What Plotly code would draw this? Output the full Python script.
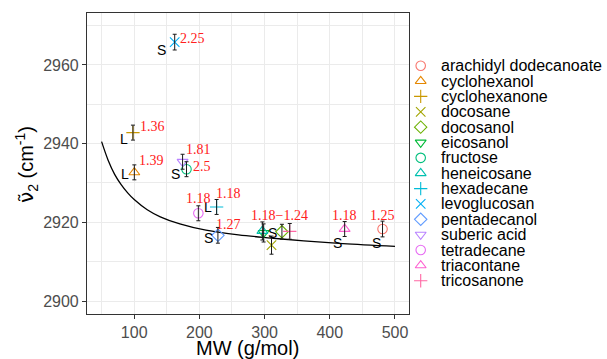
import plotly.graph_objects as go

# ---------------- data ----------------
compounds = ["arachidyl dodecanoate", "cyclohexanol", "cyclohexanone", "docosane",
             "docosanol", "eicosanol", "fructose", "heneicosane", "hexadecane",
             "levoglucosan", "pentadecanol", "suberic acid", "tetradecane",
             "triacontane", "tricosanone"]
mw = [480.9, 100.2, 98.1, 310.6, 326.6, 298.5, 180.2, 296.6, 226.4,
      162.1, 228.4, 174.2, 198.4, 422.8, 338.6]
nu2 = [2918.3, 2932.7, 2942.8, 2914.2, 2917.6, 2917.3, 2933.5, 2917.8, 2923.9,
       2965.8, 2916.7, 2935.4, 2922.3, 2918.3, 2917.7]
nu2_err = [2.0, 1.9, 1.9, 2.3, 1.9, 2.3, 1.9, 2.3, 1.9, 2.0, 2.0, 1.9, 1.9, 1.9, 2.0]

colors = ["#F8766D", "#E58700", "#C99800", "#A3A500", "#6BB100", "#00BA38",
          "#00BF7D", "#00C0AF", "#00BCD8", "#00B0F6", "#619CFF", "#B983FF",
          "#E76BF3", "#FD61D1", "#FF67A4"]
symbols = ["circle-open", "triangle-up-open", "cross-thin-open", "x-thin-open",
           "diamond-open", "triangle-down-open"] * 3
symbols = symbols[:15]

# fitted curve
curve_x = [50, 60, 70, 80, 90, 100, 120, 140, 170, 210, 260, 310, 360, 420, 500]
curve_y = [2940.5, 2935.8, 2932.2, 2929.6, 2927.5, 2925.8, 2923.2, 2921.4, 2919.6,
           2918.0, 2916.8, 2916.0, 2915.3, 2914.6, 2913.9]

# phase labels (S / L)
phase_text = ["S", "L", "L", "S", "L", "S", "S", "S", "S"]
phase_x = [142.0, 84.7, 85.8, 163.6, 213.6, 213.6, 311.8, 411.5, 471.0]
phase_y = [2963.8, 2941.3, 2932.4, 2932.4, 2923.8, 2915.9, 2917.4, 2914.8, 2914.8]

# numeric labels
num_text = ["2.25", "1.36", "1.39", "1.81", "2.5", "1.18", "1.18", "1.27",
            "1.18\u22121.24", "1.18", "1.25"]
num_x = [190.1, 128.7, 127.2, 198.3, 203.5, 199.3, 244.0, 244.3, 323.6, 422.3, 481.2]
num_y = [2966.6, 2944.3, 2935.6, 2938.4, 2934.1, 2926.1, 2927.2, 2919.5, 2921.8,
         2921.8, 2921.8]

xticks = [100, 200, 300, 400, 500]
yticks = [2900, 2920, 2940, 2960]

# ---------------- figure ----------------
W, H = 607, 359
pl, pr, pt, pb = 87, 409, 13, 314   # panel edges in px
SANS = "Liberation Sans, Arial"

fig = go.Figure()

fig.add_trace(go.Scatter(x=curve_x, y=curve_y, mode="lines",
                         line=dict(color="black", width=1.3, shape="spline"),
                         showlegend=False, hoverinfo="skip"))

fig.add_trace(go.Scatter(x=mw, y=nu2, mode="markers", showlegend=False,
                         marker=dict(symbol=symbols, color=colors, size=9.5,
                                     line=dict(width=1.1, color=colors)),
                         text=compounds))

fig.add_trace(go.Scatter(x=mw, y=nu2, mode="markers", showlegend=False,
                         hoverinfo="skip",
                         marker=dict(color="rgba(0,0,0,0)", size=1),
                         error_y=dict(type="data", array=nu2_err, color="#1a1a1a",
                                      thickness=1, width=2)))

# custom legend in a pixel-coordinate subplot
leg_y = [65.7 + i * 15.36 for i in range(len(compounds))]
fig.add_trace(go.Scatter(x=[420.7] * len(compounds), y=leg_y, xaxis="x2", yaxis="y2",
                         mode="markers", showlegend=False, hoverinfo="skip",
                         marker=dict(symbol=symbols, color=colors, size=9.5,
                                     line=dict(width=1.1, color=colors))))

annotations = []
for name, yy in zip(compounds, leg_y):
    annotations.append(dict(x=439, y=yy, xref="x2", yref="y2", text=name,
                            showarrow=False, xanchor="left", yanchor="middle",
                            font=dict(family=SANS, size=16, color="black")))
for t, xx, yy in zip(phase_text, phase_x, phase_y):
    annotations.append(dict(x=xx, y=yy, xref="x", yref="y", text=t, showarrow=False,
                            xanchor="center", yanchor="middle",
                            font=dict(family=SANS, size=14, color="black")))
for t, xx, yy in zip(num_text, num_x, num_y):
    annotations.append(dict(x=xx, y=yy, xref="x", yref="y", text=t, showarrow=False,
                            xanchor="center", yanchor="middle",
                            font=dict(family="Liberation Serif, Times New Roman",
                                      size=14, color="#FF2020")))
# axis titles
annotations.append(dict(x=247.5 / W, y=1 - 347.5 / H, xref="paper", yref="paper",
                        text="MW (g/mol)", showarrow=False, xanchor="center",
                        yanchor="middle",
                        font=dict(family=SANS, size=20, color="black")))
annotations.append(dict(x=27 / W, y=1 - 165 / H, xref="paper", yref="paper",
                        text="<span style=\"font-family:DejaVu Sans\">\u03bd\u0303</span>"
                             "<sub>2</sub> (cm<sup>-1</sup>)",
                        showarrow=False, xanchor="center", yanchor="middle",
                        textangle=-90,
                        font=dict(family=SANS, size=20, color="black")))

axis_common = dict(showgrid=True, gridcolor="#EBEBEB", gridwidth=1.1,
                   showline=True, linecolor="#333333", linewidth=1.1, mirror=True,
                   ticks="outside", ticklen=4, tickcolor="#333333", tickwidth=1.1,
                   zeroline=False,
                   tickfont=dict(family=SANS, size=16, color="#4D4D4D"))

fig.update_layout(
    width=W, height=H, autosize=False,
    margin=dict(l=0, r=0, t=0, b=0),
    paper_bgcolor="white", plot_bgcolor="rgba(0,0,0,0)",
    xaxis=dict(domain=[pl / W, pr / W], range=[27.6, 521.5], tickvals=xticks,
               anchor="y",
               minor=dict(tickvals=[50, 150, 250, 350, 450], showgrid=True,
                          gridcolor="#EBEBEB", gridwidth=0.6),
               **axis_common),
    yaxis=dict(domain=[1 - pb / H, 1 - pt / H], range=[2896.7, 2973.2],
               tickvals=yticks, anchor="x",
               minor=dict(tickvals=[2910, 2930, 2950, 2970], showgrid=True,
                          gridcolor="#EBEBEB", gridwidth=0.6),
               **axis_common),
    xaxis2=dict(domain=[0, 1], range=[0, W], visible=False, anchor="y2",
                fixedrange=True),
    yaxis2=dict(domain=[0, 1], range=[H, 0], visible=False, anchor="x2",
                fixedrange=True),
    annotations=annotations,
    showlegend=False,
)

fig.write_html("out.html")
